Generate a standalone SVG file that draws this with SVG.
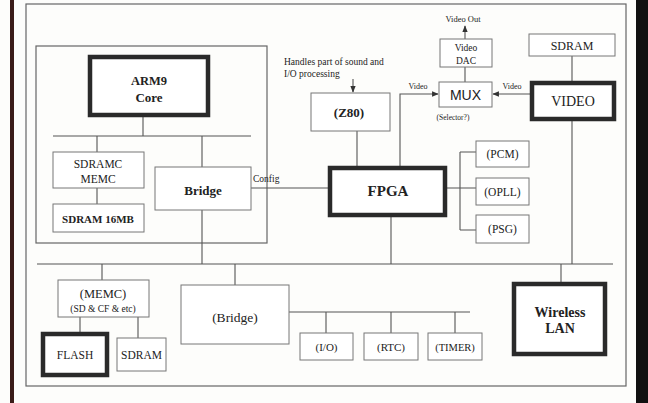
<svg xmlns="http://www.w3.org/2000/svg" width="648" height="403" viewBox="0 0 648 403">
<defs>
<style>
.bg{fill:#fdfdfb}
.frame{fill:none;stroke:#666;stroke-width:1.2}
.box{fill:#fff;stroke:#777;stroke-width:1}
.thick{fill:#fff;stroke:#2a2a2a;stroke-width:4.5}
.ln{fill:none;stroke:#555;stroke-width:1.1}
.t{font-family:"Liberation Serif","Times New Roman",serif;fill:#222;text-anchor:middle}
.s{font-family:"Liberation Sans",Arial,sans-serif;fill:#222;text-anchor:middle}
.st{text-anchor:start}
.b{font-weight:bold}
</style>
<marker id="ah" viewBox="0 0 10 10" refX="9" refY="5" markerWidth="6" markerHeight="6" orient="auto-start-reverse">
<path d="M0,1 L10,5 L0,9 z" fill="#333"/>
</marker>
</defs>
<rect class="bg" x="0" y="0" width="648" height="403"/>
<rect x="10" y="0" width="4" height="403" fill="#3a1c18"/>
<rect x="636" y="0" width="12" height="403" fill="#111"/>
<rect class="frame" x="26" y="4" width="600" height="382"/>
<rect class="frame" x="36" y="46" width="231" height="197"/>

<g id="connectors">
<path class="ln" d="M143,117 V136 M53,136 H251 M97,136 V152 M202,136 V167 M97,188 V204"/>
<path class="ln" d="M202,210 V264 M37,264 H613"/>
<path class="ln" d="M251,188 H330"/>
<path class="ln" d="M102,264 V280 M80,317 V332 M138,317 V338"/>
<path class="ln" d="M235,264 V285 M289,312 H470 M326,312 V333 M391,312 V333 M455,312 V333"/>
<path class="ln" d="M561,264 V282"/>
<path class="ln" d="M391,217 V264"/>
<path class="ln" d="M357,131 V166"/>
<path class="ln" d="M353,79 V92" marker-end="url(#ah)"/>
<path class="ln" d="M400,166 V94 H438" marker-end="url(#ah)"/>
<path class="ln" d="M530,94 H493" marker-end="url(#ah)"/>
<path class="ln" d="M465,82 V67"/>
<path class="ln" d="M465,39 V26" marker-end="url(#ah)"/>
<path class="ln" d="M572,56 V81"/>
<path class="ln" d="M572,121 V264"/>
<path class="ln" d="M447,188 H476 M460,152 V230 M460,152 H476 M460,230 H476"/>
</g>

<g id="arm9">
<rect class="thick" x="90" y="57" width="118" height="58"/>
<text class="t b" x="149" y="84.5" font-size="12.5">ARM9</text>
<text class="t b" x="149" y="101.5" font-size="13">Core</text>
</g>
<g id="sdramc">
<rect class="box" x="53" y="152" width="91" height="36"/>
<text class="t" x="98" y="168" font-size="11.5">SDRAMC</text>
<text class="t" x="98" y="183" font-size="11.5">MEMC</text>
</g>
<g id="sdram16">
<rect class="box" x="53" y="204" width="91" height="28"/>
<text class="t b" x="98" y="223" font-size="11">SDRAM 16MB</text>
</g>
<g id="bridge">
<rect class="box" x="155" y="167" width="96" height="43"/>
<text class="t b" x="203" y="194.5" font-size="13">Bridge</text>
</g>
<text class="t st" x="253" y="182" font-size="9.5">Config</text>

<g id="memc">
<rect class="box" x="58" y="280" width="91" height="37"/>
<text class="t" x="103" y="297.5" font-size="12.5">(MEMC)</text>
<text class="t" x="103" y="311.5" font-size="9.5">(SD &amp; CF &amp; etc)</text>
</g>
<g id="flash">
<rect class="thick" x="43" y="334" width="64" height="41"/>
<text class="t" x="75" y="359" font-size="11.5">FLASH</text>
</g>
<g id="sdram-small">
<rect class="box" x="117" y="338" width="49" height="33"/>
<text class="t" x="141.5" y="359" font-size="11.5">SDRAM</text>
</g>
<g id="bridge2">
<rect class="box" x="181" y="285" width="108" height="59"/>
<text class="t" x="235" y="321.5" font-size="13.5">(Bridge)</text>
</g>
<g id="io">
<rect class="box" x="300" y="333" width="53" height="27"/>
<text class="t" x="326.5" y="351" font-size="11">(I/O)</text>
</g>
<g id="rtc">
<rect class="box" x="364" y="333" width="54" height="27"/>
<text class="t" x="391" y="351" font-size="11">(RTC)</text>
</g>
<g id="timer">
<rect class="box" x="428" y="333" width="54" height="27"/>
<text class="t" x="455" y="351" font-size="10.5">(TIMER)</text>
</g>
<g id="wlan">
<rect class="thick" x="514" y="284" width="91" height="70"/>
<text class="t b" x="560" y="317" font-size="14">Wireless</text>
<text class="t b" x="560" y="333" font-size="14">LAN</text>
</g>

<g id="fpga">
<rect class="thick" x="330" y="168" width="115" height="47"/>
<text class="t b" x="388" y="196" font-size="15">FPGA</text>
</g>
<g id="z80">
<rect class="box" x="311" y="93" width="79" height="38"/>
<text class="t b" x="349" y="117" font-size="13">(Z80)</text>
</g>
<text class="t st" x="284" y="65" font-size="9.5">Handles part of sound and</text>
<text class="t st" x="284" y="77" font-size="9.5">I/O processing</text>

<g id="mux">
<rect class="box" x="439" y="82" width="53" height="25"/>
<text class="s" x="465.5" y="100" font-size="14">MUX</text>
</g>
<text class="t" x="453" y="120" font-size="7.5">(Selector?)</text>
<text class="t" x="418" y="89" font-size="8">Video</text>
<text class="t" x="512" y="89" font-size="8">Video</text>
<g id="dac">
<rect class="box" x="440" y="39" width="52" height="28"/>
<text class="t" x="466" y="50.5" font-size="9.5">Video</text>
<text class="t" x="466" y="63.5" font-size="9.5">DAC</text>
</g>
<text class="t" x="463" y="22" font-size="8.5">Video Out</text>
<g id="sdram-top">
<rect class="box" x="529" y="34" width="86" height="22"/>
<text class="t" x="572" y="49.5" font-size="12">SDRAM</text>
</g>
<g id="video">
<rect class="thick" x="532" y="83" width="82" height="36"/>
<text class="t" x="573" y="106" font-size="14">VIDEO</text>
</g>
<g id="pcm">
<rect class="box" x="476" y="141" width="53" height="26"/>
<text class="t" x="502.5" y="158" font-size="11.5">(PCM)</text>
</g>
<g id="opll">
<rect class="box" x="476" y="178" width="53" height="27"/>
<text class="t" x="502.5" y="195.5" font-size="11.5">(OPLL)</text>
</g>
<g id="psg">
<rect class="box" x="476" y="215" width="53" height="28"/>
<text class="t" x="502.5" y="233" font-size="11.5">(PSG)</text>
</g>
</svg>
